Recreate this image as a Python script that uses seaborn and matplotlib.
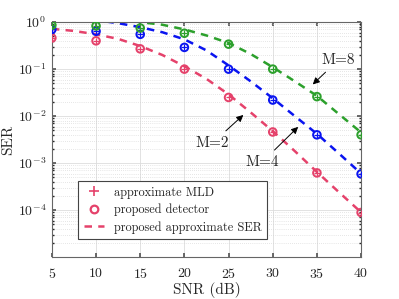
import matplotlib
matplotlib.use("Agg")
import matplotlib.pyplot as plt
from matplotlib.lines import Line2D
import seaborn as sns
import pandas as pd

# simulated points (5 dB steps)
snr = [5, 10, 15, 20, 25, 30, 35, 40]
ser_m2 = [0.46, 0.40, 0.27, 0.10, 0.025, 0.0046, 6.2e-4, 8.9e-5]
ser_m4 = [0.70, 0.64, 0.55, 0.29, 0.10, 0.022, 0.0040, 5.9e-4]
ser_m8 = [0.86, 0.83, 0.75, 0.58, 0.34, 0.10, 0.026, 0.0040]

# approximate SER curves (2.5 dB steps)
snr_c = [5, 7.5, 10, 12.5, 15, 17.5, 20, 22.5, 25, 27.5, 30, 32.5, 35, 37.5, 40]
apx_m2 = [0.72, 0.65, 0.55, 0.44, 0.31, 0.20, 0.115, 0.062, 0.029, 0.012,
          0.0048, 0.0018, 6.5e-4, 2.4e-4, 9.0e-5]
apx_m4 = [1.5, 1.3, 1.1, 0.95, 0.78, 0.61, 0.43, 0.25, 0.12, 0.055,
          0.024, 0.010, 0.0042, 0.0016, 6.0e-4]
apx_m8 = [1.9, 1.6, 1.35, 1.15, 1.0, 0.88, 0.70, 0.52, 0.36, 0.21,
          0.11, 0.055, 0.027, 0.011, 0.0045]

colors = {"M=2": "#e5426b", "M=4": "#0a14f0", "M=8": "#2ca02c"}

sns.set_theme(style="whitegrid")
plt.rcParams["font.family"] = "serif"
plt.rcParams["font.serif"] = ["cmr10"]
plt.rcParams["mathtext.fontset"] = "cm"
plt.rcParams["axes.formatter.use_mathtext"] = True

fig, ax = plt.subplots(figsize=(3.99, 2.99), dpi=100)
fig.subplots_adjust(left=0.13, right=0.905, top=0.926, bottom=0.14)

curves = pd.DataFrame({"snr": snr_c * 3,
                       "ser": apx_m2 + apx_m4 + apx_m8,
                       "M": ["M=2"] * len(snr_c) + ["M=4"] * len(snr_c) + ["M=8"] * len(snr_c)})
points = pd.DataFrame({"snr": snr * 3,
                       "ser": ser_m2 + ser_m4 + ser_m8,
                       "M": ["M=2"] * len(snr) + ["M=4"] * len(snr) + ["M=8"] * len(snr)})

for m, grp in curves.groupby("M"):
    sns.lineplot(data=grp, x="snr", y="ser", ax=ax, color=colors[m],
                 linestyle=(0, (3, 2.5)), linewidth=1.8, legend=False)
for m, grp in points.groupby("M"):
    ax.scatter(grp["snr"], grp["ser"], s=30, facecolors="none",
               edgecolors=colors[m], linewidths=1.4, zorder=3)
    ax.scatter(grp["snr"], grp["ser"], s=18, marker="+",
               color=colors[m], linewidths=0.9, zorder=3)

ax.set_yscale("log")
ax.set_xlim(5, 40)
ax.set_ylim(1e-5, 1)
ax.set_xticks(snr)
ax.set_xlabel("SNR (dB)", fontsize=11, labelpad=1)
ax.set_ylabel("SER", fontsize=11, labelpad=2)
ax.tick_params(axis="both", labelsize=10, direction="in", length=3,
               color="#555555", pad=4)
ax.tick_params(axis="x", pad=7)
ax.tick_params(axis="y", which="minor", direction="in", length=1.5, left=True, right=True)
ax.tick_params(axis="both", which="major", top=True, right=True, bottom=True, left=True)
ax.set_yticks([1e0, 1e-1, 1e-2, 1e-3, 1e-4])
ax.set_yticklabels([r"$10^{0}$", r"$10^{-1}$", r"$10^{-2}$", r"$10^{-3}$", r"$10^{-4}$"])

ax.grid(True, which="major", color="#dddddd", linewidth=0.6, linestyle="-")
ax.grid(True, which="minor", axis="y", color="#cfcfcf", linewidth=0.5, linestyle=(0, (1, 2)))
for sp in ax.spines.values():
    sp.set_color("#666666")
    sp.set_linewidth(0.8)

# annotations
arrow = dict(arrowstyle="-|>", color="black", lw=0.7, mutation_scale=10)
ax.annotate("M=8", xy=(34.3, 0.043), xytext=(37.4, 0.155), fontsize=11,
            ha="center", va="center", arrowprops=arrow)
ax.annotate("M=2", xy=(26.9, 0.0116), xytext=(23.2, 0.0027), fontsize=11,
            ha="center", va="center", arrowprops=arrow)
ax.annotate("M=4", xy=(33.1, 0.0065), xytext=(28.8, 0.00105), fontsize=11,
            ha="center", va="center", arrowprops=arrow)

red = colors["M=2"]
handles = [Line2D([], [], marker="+", linestyle="none", color=red, markersize=7, markeredgewidth=1.2),
           Line2D([], [], marker="o", linestyle="none", color=red, markerfacecolor="none",
                  markersize=5.5, markeredgewidth=1.6),
           Line2D([], [], linestyle=(0, (3, 2.5)), color=red, linewidth=1.8)]
leg = ax.legend(handles, ["approximate MLD", "proposed detector", "proposed approximate SER"],
                loc="lower left", bbox_to_anchor=(0.066, 0.05), fontsize=8.9,
                frameon=True, fancybox=False, framealpha=1, edgecolor="#444444",
                handlelength=1.6, handletextpad=0.8, borderpad=0.45, labelspacing=0.4)
leg.get_frame().set_linewidth(0.8)

fig.savefig("out.png", dpi=100)
